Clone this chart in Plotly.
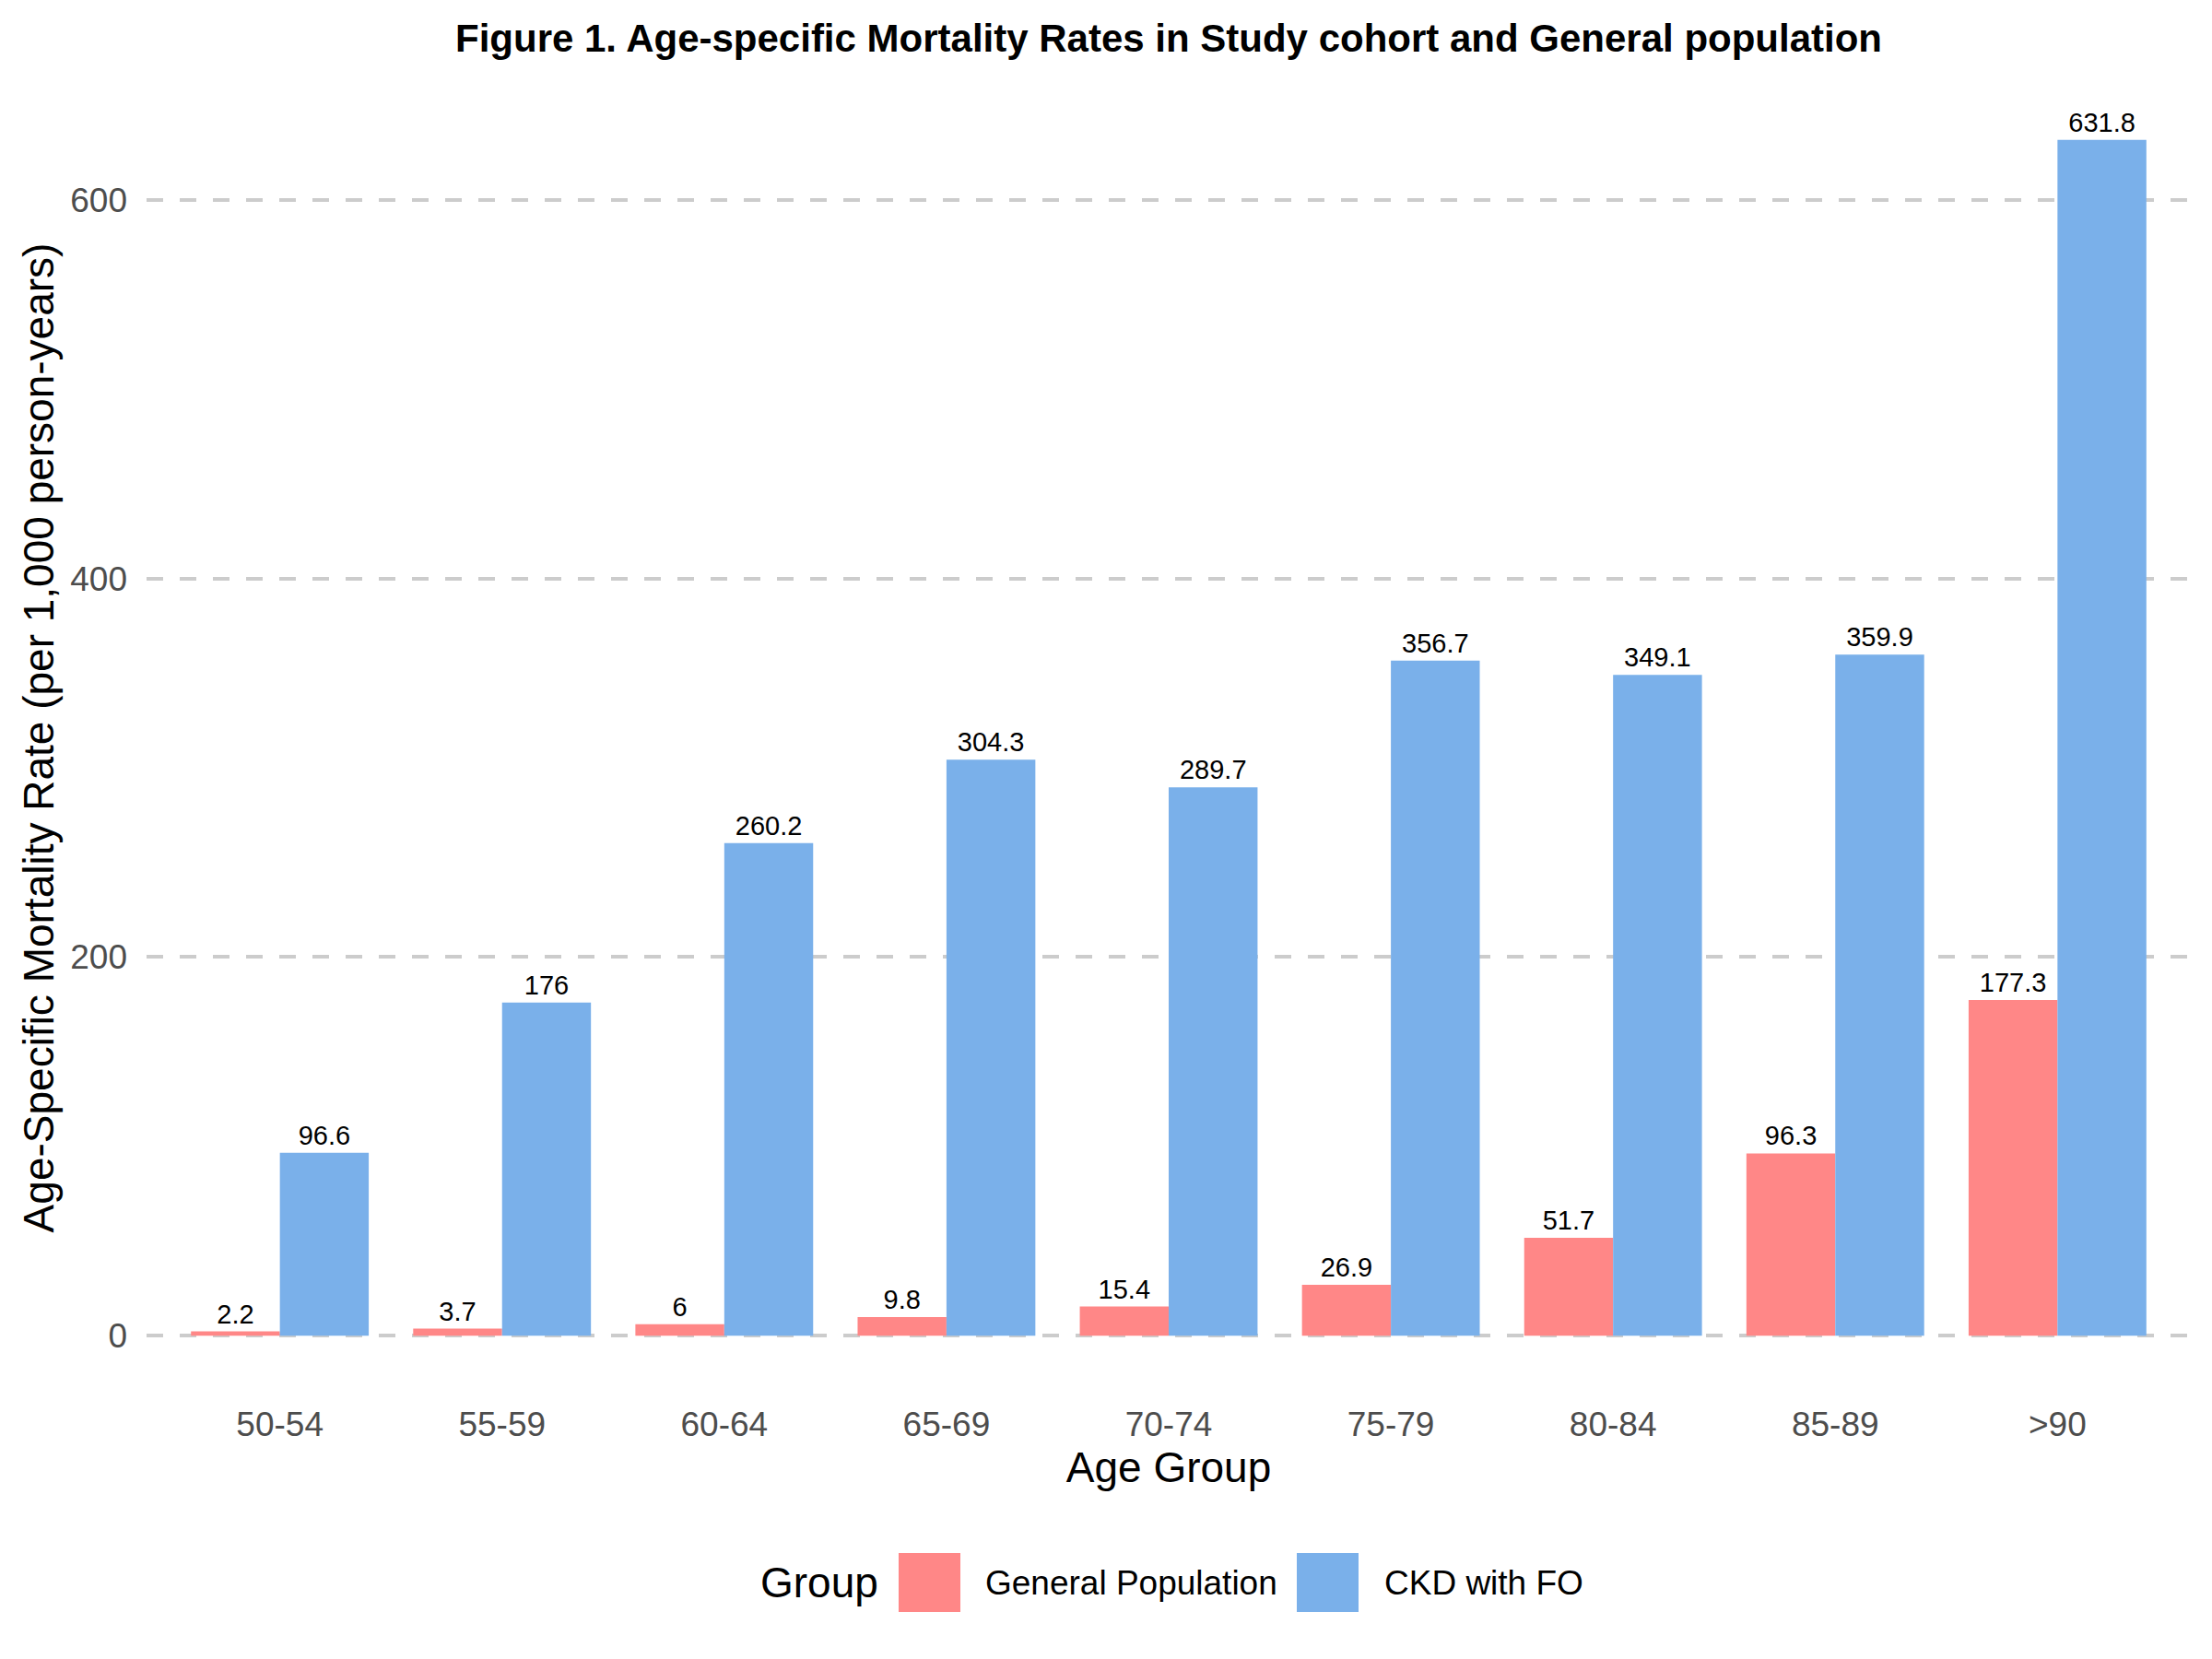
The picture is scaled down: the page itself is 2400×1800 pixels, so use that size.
import plotly.graph_objects as go

age_groups = ["50-54", "55-59", "60-64", "65-69", "70-74", "75-79", "80-84", "85-89", ">90"]
general_population = [2.2, 3.7, 6, 9.8, 15.4, 26.9, 51.7, 96.3, 177.3]
ckd_with_fo = [96.6, 176, 260.2, 304.3, 289.7, 356.7, 349.1, 359.9, 631.8]
y_ticks = [0, 200, 400, 600]
series_names = ["General Population", "CKD with FO"]
series_colors = ["#FF8787", "#7AB0EA"]

FONT = "Liberation Sans, Arial, Helvetica, sans-serif"

fig = go.Figure()
for name, vals, col in zip(series_names, [general_population, ckd_with_fo], series_colors):
    fig.add_trace(go.Bar(
        x=age_groups, y=vals, name=name,
        marker=dict(color=col, line=dict(width=0)),
        text=[f"{v:g}" for v in vals],
        textposition="outside",
        constraintext="none",
        cliponaxis=False,
        textfont=dict(family=FONT, size=29, color="black"),
        showlegend=False,
    ))

fig.update_layout(
    width=2400, height=1800,
    margin=dict(l=159, r=23, t=87, b=286),
    paper_bgcolor="white", plot_bgcolor="white",
    barmode="group", bargap=0.2, bargroupgap=0,
    font=dict(family=FONT, color="black"),
    title=dict(
        text="<b>Figure 1. Age-specific Mortality Rates in Study cohort and General population</b>",
        x=0.5, xref="paper", xanchor="center",
        y=1 - 41 / 1800, yref="container", yanchor="middle",
        font=dict(family=FONT, size=42, color="black"),
    ),
    xaxis=dict(
        range=[-0.6, 8.6],
        showgrid=False, zeroline=False, showline=False, ticks="",
        tickfont=dict(family=FONT, size=37, color="#4D4D4D"),
        ticklabelstandoff=6,
        title=dict(text="Age Group", font=dict(family=FONT, size=46, color="black"), standoff=2),
    ),
    yaxis=dict(
        range=[-31.59, 663.39],
        tickvals=y_ticks, ticktext=[str(t) for t in y_ticks],
        showgrid=True, gridcolor="#CCCCCC", gridwidth=4, griddash="18px,18px",
        zeroline=False, showline=False, ticks="",
        tickfont=dict(family=FONT, size=37, color="#4D4D4D"),
        ticklabelstandoff=20,
        title=dict(text="Age-Specific Mortality Rate (per 1,000 person-years)",
                   font=dict(family=FONT, size=46, color="black"), standoff=3),
    ),
)

# Legend (drawn in paper coordinates)
def px2x(px):
    return (px - 159) / 2218

def px2y(py):
    return (1514 - py) / 1427

fig.add_annotation(text="Group", x=px2x(823), y=px2y(1717), xref="paper", yref="paper",
                   xanchor="left", yanchor="middle", showarrow=False,
                   font=dict(family=FONT, size=46, color="black"))
legend_items = [(975, 1067), (1407, 1500)]
for (kx, tx), name, col in zip(legend_items, series_names, series_colors):
    fig.add_shape(type="rect", xref="paper", yref="paper",
                  x0=px2x(kx), x1=px2x(kx + 67), y0=px2y(1749), y1=px2y(1685),
                  fillcolor=col, line=dict(width=0))
    fig.add_annotation(text=name, x=px2x(tx), y=px2y(1717), xref="paper", yref="paper",
                       xanchor="left", yanchor="middle", showarrow=False,
                       font=dict(family=FONT, size=37, color="black"))

fig.write_html("out.html")
